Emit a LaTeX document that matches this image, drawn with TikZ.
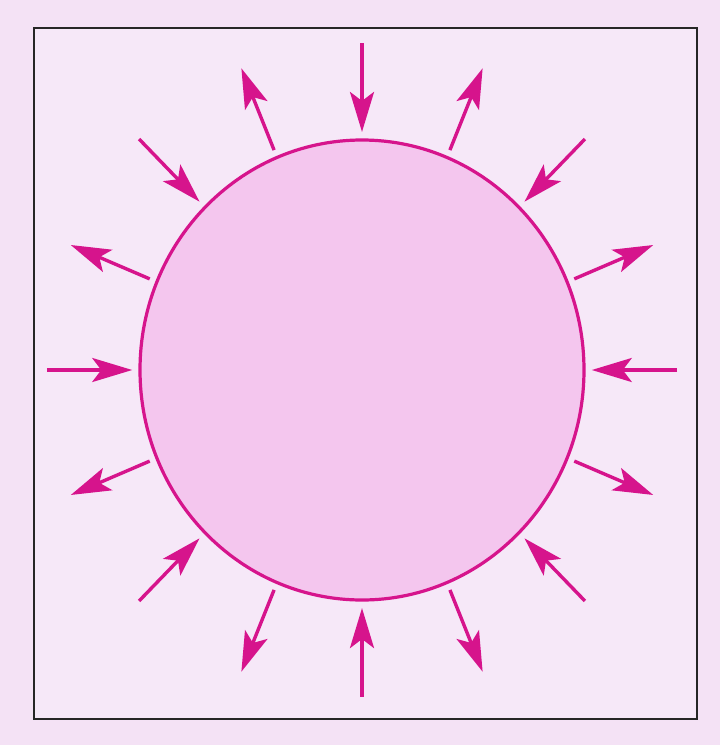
\documentclass[tikz,border=0pt]{standalone}
\usetikzlibrary{arrows.meta}
\definecolor{pagebg}{RGB}{244,226,245}
\definecolor{framebg}{RGB}{246,232,248}
\definecolor{discfill}{RGB}{244,198,238}
\definecolor{mag}{RGB}{214,20,140}
\begin{document}
\begin{tikzpicture}[x=0.5pt,y=-0.5pt,
  ray/.style={draw=mag, line width=1.7pt, -{Stealth[length=20pt,width=12pt,inset=4.5pt]}},
  framebox/.style={draw=black!85, line width=1.3pt, fill=framebg},
  disc/.style={draw=mag, line width=1.6pt, fill=discfill}]
\fill[pagebg] (0,0) rectangle (720,745);
\useasboundingbox (0,0) rectangle (720,745);
\draw[framebox] (34,28) rectangle (697,719);
\coordinate (c) at (362,370);
\draw[disc] (c) ellipse [x radius=222, y radius=230];
\foreach \i in {0,...,15}{
  \pgfmathsetmacro{\a}{90-22.5*\i}
  \coordinate (n\i) at ({362+222*1.035*cos(\a)},{370-230*1.035*sin(\a)});
  \coordinate (o\i) at ({362+222*1.42*cos(\a)},{370-230*1.42*sin(\a)});
  \ifodd\i
    \draw[ray] (n\i) -- (o\i);
  \else
    \draw[ray] (o\i) -- (n\i);
  \fi
}
\end{tikzpicture}
\end{document}
